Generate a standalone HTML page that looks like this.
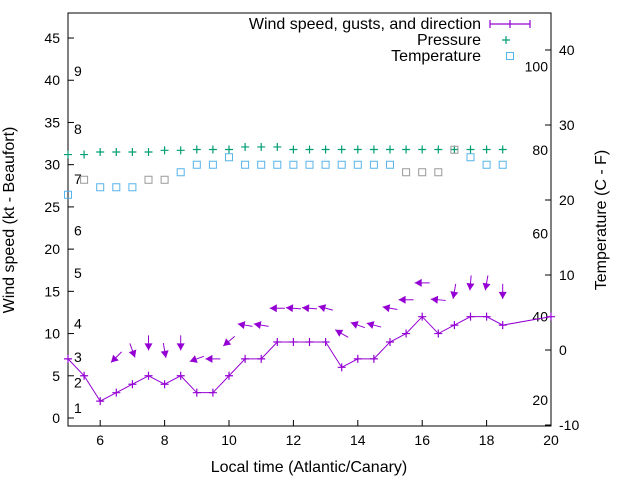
<!DOCTYPE html>
<html><head><meta charset="utf-8"><style>
body{margin:0;background:#fff}
svg{font-family:"Liberation Sans",sans-serif;font-size:14px}
.big{font-size:16px}
</style></head><body>
<svg id="chart" width="640" height="480" xmlns="http://www.w3.org/2000/svg">
<rect width="640" height="480" fill="#fff"/>
<g id="axes"></g><g id="marks"></g><g id="legend"></g>
</svg>
<script>
const hours=[5,5.5,6,6.5,7,7.5,8,8.5,9,9.5,10,10.5,11,11.5,12,12.5,13,13.5,14,14.5,15,15.5,16,16.5,17,17.5,18,18.5,20];
const windSpeed=[7,5,2,3,4,5,4,5,3,3,5,7,7,9,9,9,9,6,7,7,9,10,12,10,11,12,12,11,12];
const gustHours=[6.5,7,7.5,8,8.5,9,9.5,10,10.5,11,11.5,12,12.5,13,13.5,14,14.5,15,15.5,16,16.5,17,17.5,18,18.5];
const gustSpeed=[7.2,8,8.9,8,8.9,7,7,9.1,11,11,13,13,13,13,10,11,11,13,14,16,14,15,16,16,15];
const windDir=[45,340,0,350,0,70,90,50,100,100,90,95,95,105,120,110,105,100,90,90,95,10,5,10,0];
const pHours=[5,5.5,6,6.5,7,7.5,8,8.5,9,9.5,10,10.5,11,11.5,12,12.5,13,13.5,14,14.5,15,15.5,16,16.5,17,17.5,18,18.5];
const pressure=[31.2,31.2,31.5,31.5,31.5,31.5,31.7,31.7,31.8,31.8,31.8,32.1,32.1,32.1,31.8,31.8,31.8,31.8,31.8,31.8,31.8,31.8,31.8,31.8,31.8,31.8,31.8,31.8];
const tempC=[20.7,22.7,21.7,21.7,21.7,22.7,22.7,23.7,24.7,24.7,25.7,24.7,24.7,24.7,24.7,24.7,24.7,24.7,24.7,24.7,24.7,23.7,23.7,23.7,26.7,25.7,24.7,24.7];
const tempGrey=[0,1,0,0,0,1,1,0,0,0,0,0,0,0,0,0,0,0,0,0,0,1,1,1,1,0,0,0];
const leftTicks=[0,5,10,15,20,25,30,35,40,45];
const rightTicks=[-10,0,10,20,30,40];
const fTicks=[20,40,60,80,100];
const xTicks=[6,8,10,12,14,16,18,20];
const beaufortLabels=["1","2","3","4","5","6","7","8","9"];
const beaufortPos=[1.2,4.2,7.2,11.2,17.2,22.2,28.3,34.2,41.1];

const L=68,R=551,T=13,B=426;
const X=h=>L+(h-5)*(R-L)/15;
const Y=v=>418-v*8.444;
const YC=c=>350-c*7.5;
const YF=f=>YC((f-32)*5/9);
const NS="http://www.w3.org/2000/svg";
function mk(tag,attrs,parent,txt){const e=document.createElementNS(NS,tag);for(const k in attrs)e.setAttribute(k,attrs[k]);if(txt!==undefined)e.textContent=txt;parent.appendChild(e);return e;}
const ax=document.getElementById('axes'),mg=document.getElementById('marks'),lg=document.getElementById('legend');
let e=mk('rect',{x:L,y:T,width:R-L,height:B-T,fill:'none',stroke:'#000','stroke-width':1},ax);

leftTicks.forEach(v=>{const y=Y(v);mk('line',{x1:L,x2:L+6,y1:y,y2:y,stroke:'#000'},ax);
 e=mk('text',{x:L-8,y:y+5,'text-anchor':'end'},ax,String(v));});
rightTicks.forEach(v=>{const y=YC(v);mk('line',{x1:R-6,x2:R,y1:y,y2:y,stroke:'#000'},ax);
 e=mk('text',{x:R+8,y:y+5},ax,String(v));});
fTicks.forEach(v=>{e=mk('text',{x:R-3,y:YF(v)+5,'text-anchor':'end'},ax,String(v));});
xTicks.forEach(v=>{const x=X(v);mk('line',{x1:x,x2:x,y1:B,y2:B-6,stroke:'#000'},ax);
 e=mk('text',{x:x,y:B+19,'text-anchor':'middle'},ax,String(v));});
beaufortLabels.forEach((b,i)=>{e=mk('text',{x:74,y:Y(beaufortPos[i])+5},ax,b);});
e=mk('text',{x:309,y:472,'text-anchor':'middle','class':'big'},ax,'Local time (Atlantic/Canary)');
e=mk('text',{x:0,y:0,'text-anchor':'middle','class':'big',transform:'translate(14,220) rotate(-90)'},ax,'Wind speed (kt - Beaufort)');
e=mk('text',{x:0,y:0,'text-anchor':'middle','class':'big',transform:'translate(606,220) rotate(-90)'},ax,'Temperature (C - F)');

const purple='#9400d3',green='#009e73',blue='#56b4e9';
e=mk('polyline',{points:hours.map((h,i)=>X(h)+','+Y(windSpeed[i])).join(' '),fill:'none',stroke:purple,'stroke-width':1},mg);

function plus(x,y,c,name){const g=mk('path',{d:`M${x-4},${y}h8M${x},${y-4}v8`,stroke:c,'stroke-width':1.2},mg);}
hours.forEach((h,i)=>plus(X(h),Y(windSpeed[i]),purple,'wind-speed-point'));
gustHours.forEach((h,i)=>{const cx=X(h),cy=Y(gustSpeed[i]);const a=(windDir[i]+180)*Math.PI/180;
 const dx=Math.sin(a),dy=-Math.cos(a),len=15;
 const x1=cx-dx*len/2,y1=cy-dy*len/2,x2=cx+dx*len/2,y2=cy+dy*len/2;
 const px=-dy,py=dx;
 const g=mk('g',{},mg);
 mk('line',{x1:x1,y1:y1,x2:x2,y2:y2,stroke:purple,'stroke-width':1},g);
 mk('polygon',{points:`${x2},${y2} ${x2-dx*7+px*4},${y2-dy*7+py*4} ${x2-dx*7-px*4},${y2-dy*7-py*4}`,fill:purple},g);});
pHours.forEach((h,i)=>plus(X(h),Y(pressure[i]),green,'pressure-point'));
pHours.forEach((h,i)=>{e=mk('rect',{x:X(h)-3.5,y:YC(tempC[i])-3.5,width:7,height:7,fill:'none',stroke:tempGrey[i]?'#999':blue,'stroke-width':1},mg);
 });

const leg=[['Wind speed, gusts, and direction',24],['Pressure',40],['Temperature',56]];
leg.forEach((l,i)=>{const g=mk('g',{},lg);
 mk('text',{x:481,y:l[1]+5,'text-anchor':'end','class':'big'},g,l[0]);
 if(i===0){mk('path',{d:`M490,${l[1]}h40M490,${l[1]-4}v8M530,${l[1]-4}v8M510,${l[1]-4}v8`,stroke:purple,'stroke-width':1.2},g);}
 else if(i===1){mk('path',{d:`M506,${l[1]-4}v8M502,${l[1]}h8`,stroke:green,'stroke-width':1.2},g);}
 else{mk('rect',{x:506.5,y:l[1]-3.5,width:7,height:7,fill:'none',stroke:blue},g);}
});
</script>
</body></html>
